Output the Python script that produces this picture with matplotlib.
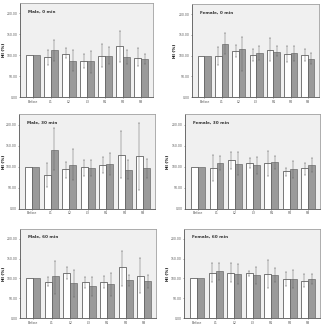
import numpy as np
import matplotlib
matplotlib.use("Agg")
import matplotlib.pyplot as plt

categories = ["Before", "L1", "L2", "L3", "R1", "R2", "R3"]
titles = ["Male, 0 min", "Female, 0 min", "Male, 30 min",
          "Female, 30 min", "Male, 60 min", "Female, 60 min"]

# white bars (first series): mean, lower, upper
m0_w = [100, 96, 104, 87, 99, 121, 94]
m0_w_lo = [100, 76, 94, 70, 72, 83, 74]
m0_w_hi = [100, 113, 117, 104, 127, 157, 117]
m0_g = [100, 113, 87, 87, 99, 95, 91]
m0_g_lo = [100, 87, 62, 58, 79, 79, 78]
m0_g_hi = [100, 137, 113, 111, 120, 112, 104]

f0_w = [100, 100, 111, 102, 114, 104, 102]
f0_w_lo = [100, 78, 97, 88, 86, 84, 86]
f0_w_hi = [100, 122, 126, 115, 143, 123, 116]
f0_g = [100, 128, 116, 106, 110, 106, 92]
f0_g_lo = [100, 104, 63, 89, 98, 86, 80]
f0_g_hi = [100, 155, 146, 124, 123, 123, 107]

m30_w = [100, 81, 95, 99, 104, 129, 125]
m30_w_lo = [100, 53, 74, 78, 85, 74, 46]
m30_w_hi = [100, 110, 112, 117, 124, 185, 204]
m30_g = [100, 139, 104, 98, 106, 93, 98]
m30_g_lo = [100, 93, 68, 77, 81, 71, 74]
m30_g_hi = [100, 193, 141, 117, 133, 117, 118]

f30_w = [100, 98, 116, 108, 110, 90, 96]
f30_w_lo = [100, 67, 94, 96, 79, 79, 80]
f30_w_hi = [100, 129, 135, 120, 138, 98, 110]
f30_g = [100, 109, 106, 104, 112, 94, 104]
f30_g_lo = [100, 92, 80, 83, 94, 74, 88]
f30_g_hi = [100, 126, 134, 124, 126, 113, 120]

m60_w = [100, 92, 113, 90, 92, 130, 107]
m60_w_lo = [100, 80, 98, 75, 77, 80, 62]
m60_w_hi = [100, 103, 128, 104, 105, 170, 151]
m60_g = [100, 107, 88, 82, 86, 96, 94]
m60_g_lo = [100, 61, 52, 56, 56, 82, 77]
m60_g_hi = [100, 143, 121, 104, 115, 109, 109]

f60_w = [100, 113, 115, 113, 111, 98, 94]
f60_w_lo = [100, 90, 90, 107, 77, 80, 79]
f60_w_hi = [100, 139, 139, 119, 146, 117, 111]
f60_g = [100, 118, 111, 108, 108, 98, 98]
f60_g_lo = [100, 95, 86, 87, 90, 75, 86]
f60_g_hi = [100, 140, 137, 129, 126, 121, 111]

yticks = [0, 50, 100, 150, 200]
ytick_labels = ["0.00", "50.00", "100.00", "150.00", "200.00"]

panels = [
    (m0_w, m0_w_lo, m0_w_hi, m0_g, m0_g_lo, m0_g_hi),
    (f0_w, f0_w_lo, f0_w_hi, f0_g, f0_g_lo, f0_g_hi),
    (m30_w, m30_w_lo, m30_w_hi, m30_g, m30_g_lo, m30_g_hi),
    (f30_w, f30_w_lo, f30_w_hi, f30_g, f30_g_lo, f30_g_hi),
    (m60_w, m60_w_lo, m60_w_hi, m60_g, m60_g_lo, m60_g_hi),
    (f60_w, f60_w_lo, f60_w_hi, f60_g, f60_g_lo, f60_g_hi),
]

W, H = 321, 326
# pixel boxes: left, right, top, bottom, ylabel x
boxes = [
    (20, 153, 3, 97, 4),
    (192, 319, 4, 97, 175),
    (19, 155, 114, 209, 4),
    (185, 320, 114, 209, 168),
    (20, 156, 229, 318, 4),
    (184, 320, 229, 318, 168),
]

fig = plt.figure(figsize=(W / 100, H / 100), dpi=100)
fig.patch.set_facecolor("white")

x = np.arange(len(categories))
bw = 0.38
for (l, r, t, b, lx), title, data in zip(boxes, titles, panels):
    ax = fig.add_axes([l / W, 1 - b / H, (r - l) / W, (b - t) / H])
    ax.set_facecolor("#f0f0f0")
    w, wlo, whi, g, glo, ghi = [np.array(v, dtype=float) for v in data]
    xw = x - bw / 2
    xg = x + bw / 2
    ax.bar(xw, w, width=bw, color="white", edgecolor="#444444", linewidth=0.5, zorder=2)
    ax.bar(xg, g, width=bw, color="#9a9a9a", edgecolor="#555555", linewidth=0.4, zorder=2)
    for xs, m, lo, hi in ((xw, w, wlo, whi), (xg, g, glo, ghi)):
        mask = x > 0
        ax.errorbar(xs[mask], m[mask], yerr=[m[mask] - lo[mask], hi[mask] - m[mask]],
                    fmt="none", ecolor="#666666", elinewidth=0.35, capsize=1.0,
                    capthick=0.35, zorder=3)
    ax.set_xlim(-0.72, len(categories) - 0.35)
    ax.set_ylim(0, 225)
    ax.set_yticks(yticks)
    ax.set_yticklabels(ytick_labels, fontsize=2.2, color="#555555")
    ax.set_xticks(x)
    ax.set_xticklabels(categories, fontsize=2.3, color="#444444")
    ax.tick_params(axis="both", length=1.0, width=0.4, pad=0.8, colors="#555555")
    for s in ax.spines.values():
        s.set_color("#a0a0a0")
        s.set_linewidth(0.6)
    ax.spines["left"].set_color("#555555")
    ax.spines["bottom"].set_color("#555555")
    fig.text(lx / W, 1 - (t + b) / 2 / H, "HI (%)", rotation=90, fontsize=3.0,
             fontweight="bold", ha="center", va="center")
    ax.text(0.06, 0.93, title, transform=ax.transAxes, fontsize=3.0,
            fontweight="bold", va="top", ha="left", color="#333333")

fig.savefig("out.png", dpi=100)
